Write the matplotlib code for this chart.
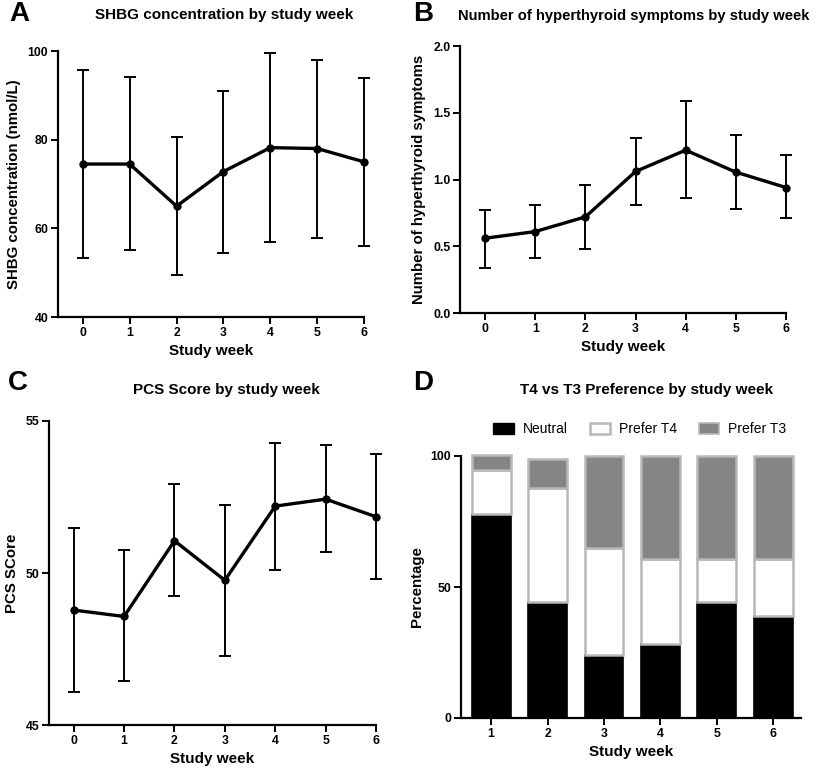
import numpy as np
import matplotlib
matplotlib.use("Agg")
import matplotlib.pyplot as plt
from matplotlib.patches import Patch

plt.rcParams['font.family'] = ['Liberation Sans', 'DejaVu Sans']

weeks = [0, 1, 2, 3, 4, 5, 6]

# A: SHBG concentration (mean, upper, lower)
shbg_mean = [74.5, 74.5, 65.0, 72.8, 78.2, 78.0, 75.0]
shbg_hi = [95.8, 94.1, 80.7, 91.0, 99.5, 98.0, 93.9]
shbg_lo = [53.2, 55.0, 49.4, 54.4, 57.0, 57.9, 56.1]

# B: hyperthyroid symptoms
sym_mean = [0.56, 0.61, 0.72, 1.06, 1.22, 1.055, 0.94]
sym_hi = [0.77, 0.81, 0.96, 1.31, 1.59, 1.33, 1.18]
sym_lo = [0.34, 0.41, 0.48, 0.81, 0.86, 0.78, 0.71]

# C: PCS score
pcs_mean = [48.78, 48.57, 51.06, 49.76, 52.2, 52.43, 51.85]
pcs_hi = [51.49, 50.76, 52.92, 52.25, 54.29, 54.2, 53.9]
pcs_lo = [46.1, 46.44, 49.24, 47.27, 50.11, 50.68, 49.81]

# D: preference (percent)
pref_weeks = [1, 2, 3, 4, 5, 6]
neutral = [78.0, 44.2, 24.2, 28.2, 44.2, 39.1]
prefer_t4 = [16.5, 43.5, 40.6, 32.6, 16.6, 21.7]
prefer_t3 = [6.0, 11.2, 35.2, 39.2, 39.2, 39.2]

W, H = 816, 769
fig = plt.figure(figsize=(W / 100, H / 100), dpi=100)


def ax_at(l, r, t, b):
    return fig.add_axes([l / W, 1 - b / H, (r - l) / W, (b - t) / H])


def style(ax):
    for s in ['top', 'right']:
        ax.spines[s].set_visible(False)
    for s in ['left', 'bottom']:
        ax.spines[s].set_linewidth(1.6)
    ax.tick_params(width=1.4, length=5, labelsize=8.8, pad=2)
    for lab in ax.get_xticklabels() + ax.get_yticklabels():
        lab.set_fontweight('bold')


def line_panel(ax, mean, hi, lo, ylim, yticks, ylabel, xleft):
    m = np.array(mean)
    yerr = [m - np.array(lo), np.array(hi) - m]
    ax.errorbar(weeks, mean, yerr=yerr, color='black', lw=2.4, marker='o',
                ms=5, elinewidth=1.4, capsize=4, capthick=1.4, clip_on=False)
    ax.set_xlim(xleft, 6)
    ax.set_ylim(*ylim)
    ax.set_xticks(weeks)
    ax.set_yticks(yticks)
    ax.set_xlabel('Study week', fontsize=11, fontweight='bold', labelpad=4)
    ax.set_ylabel(ylabel, fontsize=10.8, fontweight='bold', labelpad=5)
    style(ax)


axA = ax_at(58, 364, 51, 317)
line_panel(axA, shbg_mean, shbg_hi, shbg_lo, (40, 100), [40, 60, 80, 100],
           'SHBG concentration (nmol/L)', -0.53)

axB = ax_at(460, 786, 46, 313)
line_panel(axB, sym_mean, sym_hi, sym_lo, (0, 2.0), [0.0, 0.5, 1.0, 1.5, 2.0],
           'Number of hyperthyroid symptoms', -0.5)
axB.set_yticklabels(['0.0', '0.5', '1.0', '1.5', '2.0'], fontweight='bold')

axC = ax_at(49, 376, 421, 725)
line_panel(axC, pcs_mean, pcs_hi, pcs_lo, (45, 55), [45, 50, 55],
           'PCS SCore', -0.49)

axD = ax_at(461, 801, 456, 718)
edge = '#b8b8b8'
n = np.array(neutral)
t4 = np.array(prefer_t4)
t3 = np.array(prefer_t3)
axD.bar(pref_weeks, n, width=0.69, color='black', edgecolor='black', lw=1.2)
axD.bar(pref_weeks, t4, bottom=n, width=0.69, color='white', edgecolor=edge, lw=1.8)
axD.bar(pref_weeks, t3, bottom=n + t4, width=0.69, color='#858585', edgecolor=edge,
        lw=1.8, clip_on=False)
axD.set_xlim(0.467, 6.49)
axD.set_ylim(0, 100)
axD.set_xticks(pref_weeks)
axD.set_yticks([0, 50, 100])
axD.set_xlabel('Study week', fontsize=11, fontweight='bold', labelpad=4)
axD.set_ylabel('Percentage', fontsize=10.8, fontweight='bold', labelpad=5)
style(axD)
handles = [Patch(facecolor='black', edgecolor='black', label='Neutral'),
           Patch(facecolor='white', edgecolor=edge, lw=1.8, label='Prefer T4'),
           Patch(facecolor='#858585', edgecolor=edge, lw=1.2, label='Prefer T3')]
axD.legend(handles=handles, ncol=3, frameon=False, fontsize=10,
           loc='center', bbox_to_anchor=(640 / W, 1 - 429 / H),
           bbox_transform=fig.transFigure, handlelength=1.45, handleheight=0.85,
           handletextpad=0.65, columnspacing=1.6)

# titles and panel letters
titles = [('SHBG concentration by study week', 224, 15, 11),
          ('Number of hyperthyroid symptoms by study week', 634, 16, 10.6),
          ('PCS Score by study week', 226, 390, 11),
          ('T4 vs T3 Preference by study week', 647, 390, 11)]
for txt, x, y, fs in titles:
    fig.text(x / W, 1 - y / H, txt, ha='center', va='center',
             fontsize=fs, fontweight='bold')

letters = [('A', 19, 14), ('B', 423, 14), ('C', 18, 383), ('D', 423, 383)]
for txt, x, y in letters:
    fig.text(x / W, 1 - y / H, txt, ha='center', va='center',
             fontsize=20, fontweight='bold')

fig.savefig('out.png', dpi=100)
